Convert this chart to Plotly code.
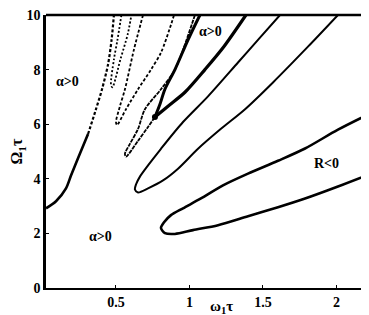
import plotly.graph_objects as go

# ---- data ----
x_ticks = [0.5, 1, 1.5, 2]
x_tick_labels = ["0.5", "1", "1.5", "2"]
y_ticks = [0, 2, 4, 6, 8, 10]
y_tick_labels = ["0", "2", "4", "6", "8", "10"]

# left boundary curve (solid lower part, dashed upper part)
c0_solid_x = [0.024, 0.092, 0.160, 0.194, 0.241, 0.310]
c0_solid_y = [2.92, 3.18, 3.65, 4.12, 4.74, 5.64]
c0_dash_x = [0.310, 0.364, 0.405, 0.446, 0.470, 0.486]
c0_dash_y = [5.64, 6.55, 7.28, 8.19, 9.09, 10.0]

# lowest tongue (thick)
t1_x = [2.262, 2.010, 1.786, 1.602, 1.398, 1.228, 1.078, 0.956, 0.874, 0.827, 0.806,
        0.833, 0.901, 1.024, 1.194, 1.398, 1.602, 1.786, 2.010, 2.269]
t1_y = [6.48, 5.80, 5.11, 4.66, 4.19, 3.76, 3.28, 2.92, 2.67, 2.41, 2.20,
        2.01, 1.98, 2.12, 2.30, 2.63, 2.96, 3.28, 3.72, 4.26]

# second tongue
t2_x = [1.616, 1.466, 1.330, 1.126, 0.956, 0.806, 0.718, 0.663, 0.636, 0.629,
        0.650, 0.718, 0.820, 0.922, 1.058, 1.214, 1.378, 1.568, 1.806, 2.010]
t2_y = [10.0, 9.09, 8.26, 7.02, 6.08, 5.10, 4.49, 4.08, 3.79, 3.61,
        3.50, 3.65, 3.94, 4.37, 5.10, 5.83, 6.55, 7.53, 8.84, 10.0]

# third tongue (thin)
t3_x = [1.037, 0.901, 0.806, 0.697, 0.650, 0.595, 0.561, 0.568, 0.650, 0.718, 0.765]
t3_y = [10.0, 8.00, 7.28, 6.55, 5.83, 5.28, 4.92, 4.81, 5.39, 5.90, 6.26]

# thick pair starting at the knot
ta_x = [0.765, 0.799, 0.833, 0.901, 0.990, 1.071]
ta_y = [6.26, 6.73, 7.28, 8.00, 9.09, 10.0]
tb_x = [0.765, 0.854, 0.969, 1.105, 1.228, 1.384]
tb_y = [6.26, 6.66, 7.17, 8.00, 8.80, 10.0]

# narrow dotted tongues
t4_x = [0.684, 0.622, 0.561, 0.527, 0.500, 0.507, 0.568, 0.650, 0.738, 0.806, 0.874, 0.895]
t4_y = [10.0, 8.73, 7.28, 6.66, 6.08, 5.97, 6.55, 7.28, 8.00, 8.62, 9.64, 10.0]
t5_x = [0.537, 0.510, 0.486, 0.466, 0.476, 0.530, 0.580, 0.605]
t5_y = [10.0, 9.09, 8.37, 7.45, 7.35, 8.37, 9.30, 10.0]

labels = ["α>0", "α>0", "α>0", "R<0"]
label_x = [0.173, 0.398, 1.146, 1.929]
label_y = [7.57, 1.90, 9.38, 4.56]

fig = go.Figure()

def add(x, y, width, dash="solid"):
    fig.add_trace(go.Scatter(x=x, y=y, mode="lines",
                             line=dict(color="black", width=width, dash=dash, shape="spline", smoothing=0.8),
                             hoverinfo="skip", showlegend=False))

add(c0_solid_x, c0_solid_y, 2.6)
add(c0_dash_x, c0_dash_y, 2.2, "3px,2px")
add(t1_x, t1_y, 2.6)
add(t2_x, t2_y, 2.0)
add(t3_x, t3_y, 1.8, "4px,1px")
add(ta_x, ta_y, 3.0)
add(tb_x, tb_y, 3.2)
add(t4_x, t4_y, 1.8, "3px,2px")
add(t5_x, t5_y, 1.8, "2px,2px")

# knot marker
fig.add_trace(go.Scatter(x=[ta_x[0]], y=[ta_y[0]], mode="markers",
                         marker=dict(color="black", size=6), hoverinfo="skip", showlegend=False))

font = dict(family="Liberation Serif", size=14, color="black", weight="bold")
for t, lx, ly in zip(labels, label_x, label_y):
    fig.add_annotation(x=lx, y=ly, text=t, showarrow=False, font=font)

# axis titles
fig.add_annotation(xref="paper", yref="paper", x=0.53, y=-0.03, yanchor="top",
                   text="ω<sub>1</sub>τ", showarrow=False,
                   font=dict(family="Liberation Serif", size=15, color="black", weight="bold"))
fig.add_annotation(xref="paper", yref="paper", x=-0.05, y=0.5, xanchor="right",
                   text="Ω<sub>1</sub>τ", textangle=-90, showarrow=False,
                   font=dict(family="Liberation Serif", size=16, color="black", weight="bold"))

# top border line
fig.add_shape(type="line", xref="paper", yref="paper", x0=0, x1=1, y0=1, y1=1,
              line=dict(color="black", width=2.5))

fig.update_xaxes(range=[0.024, 2.2755], tickvals=x_ticks, ticktext=x_tick_labels,
                 showgrid=False, zeroline=False, showline=True, linecolor="black", linewidth=2,
                 ticks="inside", ticklen=3, tickcolor="black", tickfont=font,
                 ticklabeloverflow="allow")
fig.update_yaxes(range=[0, 10], tickvals=y_ticks, ticktext=y_tick_labels,
                 showgrid=False, zeroline=False, showline=True, linecolor="black", linewidth=2.5,
                 ticks="inside", ticklen=3, tickcolor="black", tickfont=font,
                 ticklabeloverflow="allow")

fig.update_layout(width=369, height=315, margin=dict(l=38, r=0, t=5, b=35),
                  plot_bgcolor="white", paper_bgcolor="white")

fig.write_html("out.html")
